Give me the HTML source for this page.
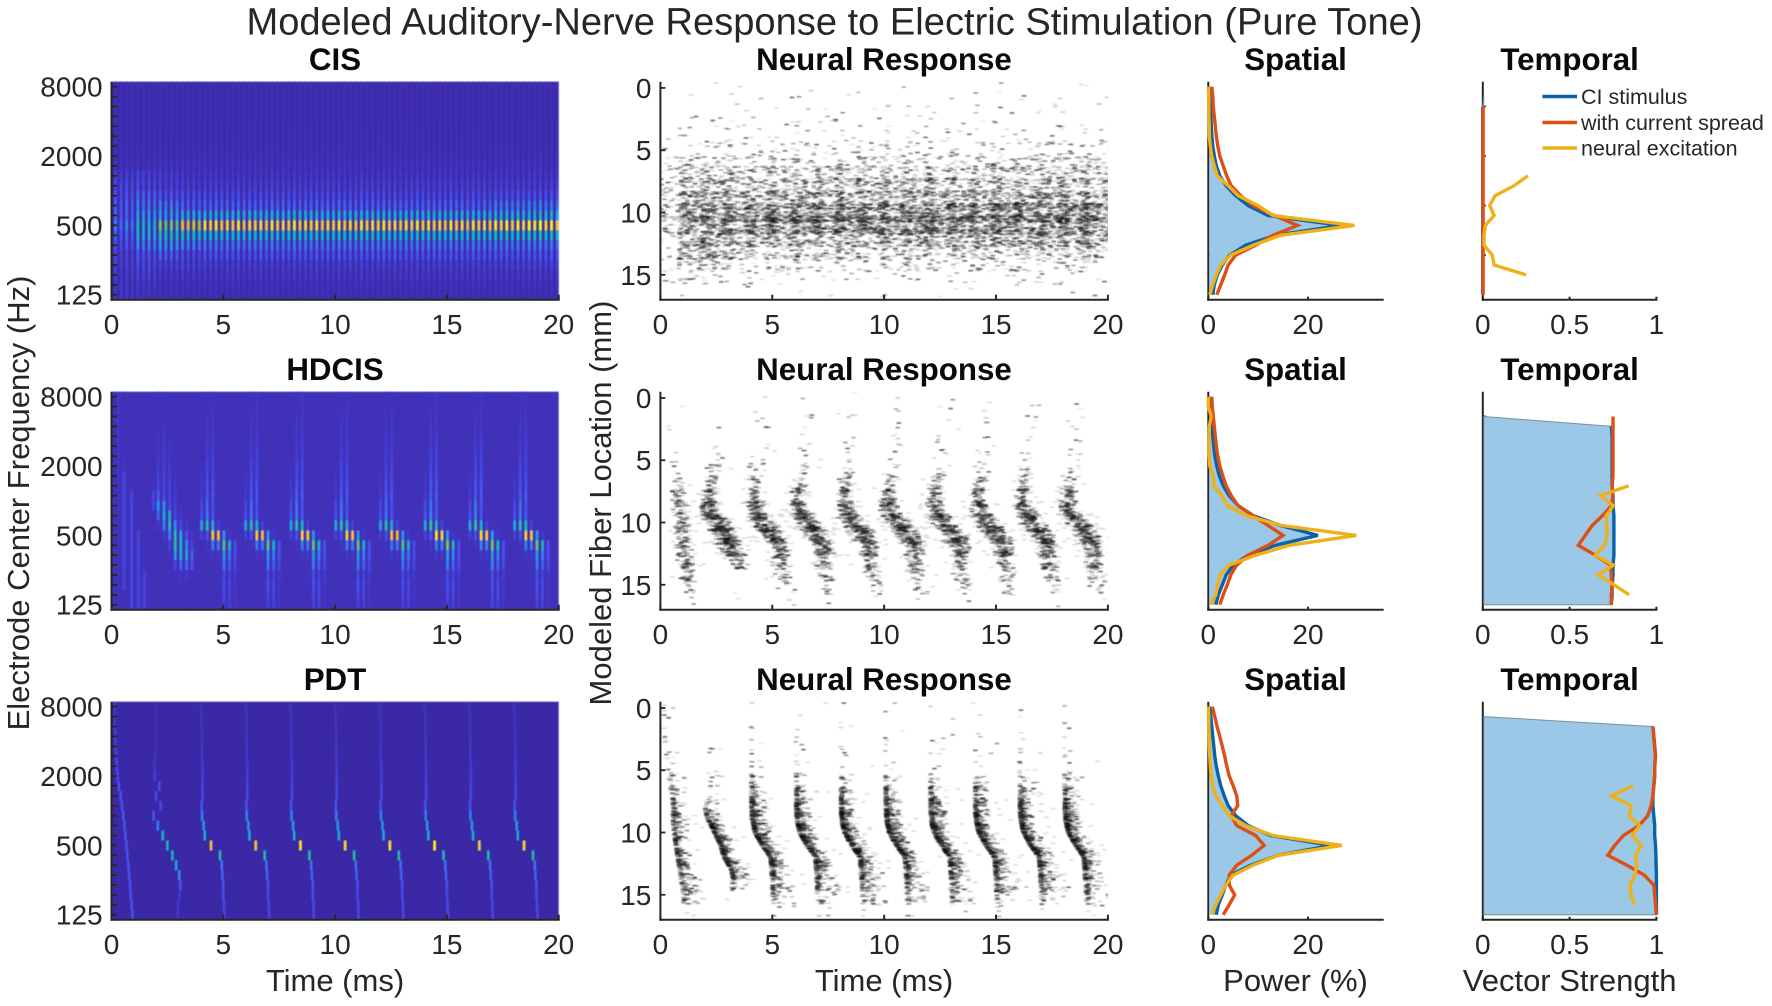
<!DOCTYPE html>
<html lang="en">
<head>
<meta charset="utf-8">
<title>Modeled Auditory-Nerve Response to Electric Stimulation (Pure Tone)</title>
<style>
html,body{margin:0;padding:0;background:#fff;}
svg{display:block;font-family:"Liberation Sans",Arial,sans-serif;}
text{fill:#262626;}
.main{font-size:38.1px;text-anchor:middle;}
.sub{font-size:31.3px;font-weight:bold;text-anchor:middle;fill:#0a0a0a;}
.lab{font-size:31px;text-anchor:middle;}
.tick{font-size:28px;}
.leg{font-size:21.5px;}
</style>
</head>
<body>
<svg id="figure" xmlns="http://www.w3.org/2000/svg" width="1772" height="1006" viewBox="0 0 1772 1006">
<defs>
<filter id="heatBlur" x="-3%" y="-3%" width="106%" height="106%" color-interpolation-filters="sRGB"><feGaussianBlur stdDeviation="0.55"/></filter>
<filter id="spikeBlur" x="-2%" y="-2%" width="104%" height="104%" color-interpolation-filters="sRGB"><feGaussianBlur stdDeviation="0.55"/></filter>
<clipPath id="rasterClip0"><rect x="660.4" y="81.7" width="447.5" height="218"/></clipPath>
<clipPath id="rasterClip1"><rect x="660.4" y="391.7" width="447.5" height="218"/></clipPath>
<clipPath id="rasterClip2"><rect x="660.4" y="701.7" width="447.5" height="218"/></clipPath>
</defs>
<rect x="0" y="0" width="1772" height="1006" fill="#fff"/>
<text class="main" x="834.5" y="34.5">Modeled Auditory-Nerve Response to Electric Stimulation (Pure Tone)</text>

<text class="sub" x="335" y="70">CIS</text>
<text class="sub" x="884" y="70">Neural Response</text>
<text class="sub" x="1295.5" y="70">Spatial</text>
<text class="sub" x="1569.6" y="70">Temporal</text>

<text class="sub" x="335" y="380">HDCIS</text>
<text class="sub" x="884" y="380">Neural Response</text>
<text class="sub" x="1295.5" y="380">Spatial</text>
<text class="sub" x="1569.6" y="380">Temporal</text>

<text class="sub" x="335" y="690">PDT</text>
<text class="sub" x="884" y="690">Neural Response</text>
<text class="sub" x="1295.5" y="690">Spatial</text>
<text class="sub" x="1569.6" y="690">Temporal</text>

<text class="lab" x="335" y="991">Time (ms)</text>
<text class="lab" x="884" y="991">Time (ms)</text>
<text class="lab" x="1295.5" y="991">Power (%)</text>
<text class="lab" x="1569.6" y="991">Vector Strength</text>
<text class="lab" transform="translate(29,503) rotate(-90)">Electrode Center Frequency (Hz)</text>
<text class="lab" transform="translate(611,503) rotate(-90)">Modeled Fiber Location (mm)</text>
</svg>
<script>
// ---------- axis tick labels ----------
const timeTicks = [0, 5, 10, 15, 20];
const freqTickLabels = ['8000', '2000', '500', '125'];
const freqTickRows = [0, 7, 14, 21];
const fiberTicks = [0, 5, 10, 15];
const powerTicks = [0, 20];
const strengthTicks = ['0', '0.5', '1'];
const electrodeTickRows = [2, 7, 12, 17];
const legendLabels = ['CI stimulus', 'with current spread', 'neural excitation'];

// ---------- spatial profiles: power (%) per electrode row, top to bottom ----------
const cisSpatialBlue = [0.2,0.3,0.4,0.5,0.6,0.7,0.9,1.2,1.6,2.3,3.6,5.5,8.0,12.0,26.6,13.5,7.5,4.3,2.8,1.8,1.2,0.9];
const cisSpatialRed = [0.7,0.9,1.0,1.2,1.4,1.6,1.9,2.3,3.0,3.7,4.6,6.5,9.0,13.2,17.9,13.0,9.5,5.5,4.0,3.3,2.5,1.7];
const cisSpatialYellow = [0,0.1,0.1,0.1,0.2,0.2,0.4,0.7,1.2,1.8,4.0,6.0,10.0,13.0,29.3,14.5,9.0,4.5,2.5,1.6,0.9,0.3];
const hdcisSpatialBlue = [0.2,0.3,0.5,0.7,0.9,1.1,1.3,1.7,2.2,3.0,4.2,6.0,9.0,14.5,22.0,13.5,8.0,5.0,3.6,2.8,2.0,1.5];
const hdcisSpatialRed = [0.7,0.8,1.0,1.2,1.4,1.6,1.9,2.3,2.9,3.6,4.6,6.0,9.0,12.0,15.0,12.0,8.0,5.7,4.5,3.8,3.0,2.3];
const hdcisSpatialYellow = [0,0,0.6,0.2,0.2,0.1,0.2,0.3,1.0,1.1,2.7,3.8,7.6,14.8,29.7,16.3,9.5,4.2,2.3,1.9,1.5,0.5];
const pdtSpatialBlue = [0.3,0.5,0.7,0.9,1.1,1.3,1.6,2.0,2.5,3.2,4.0,5.5,8.0,12.5,24.7,14.0,8.5,4.5,3.5,2.8,2.0,1.6];
const pdtSpatialRed = [0.8,1.3,1.75,2.3,2.8,3.3,3.7,4.2,5.0,5.7,5.9,4.6,5.7,9.5,11.2,8.7,5.7,4.2,4.2,5.3,4.2,3.0];
const pdtSpatialYellow = [0,0.1,0.1,0.2,0.2,0.3,0.4,0.6,0.9,1.5,2.8,4.2,7.5,13.0,26.8,14.0,9.0,5.0,3.5,2.5,1.5,0.8];

// ---------- temporal profiles: vector strength per electrode row ----------
const cisTemporalBlue = [null,null,0,0,0,0,0,0,0,0,0,0,0,0,0,0,0,0,0,0,0,0];
const cisTemporalRed = [null,null,0.002,0.002,0.002,0.002,0.002,0.002,0.002,0.002,0.002,0.002,0.002,0.002,0.002,0.002,0.002,0.002,0.002,0.002,0.002,0.002];
const cisTemporalYellow = [null,null,null,null,null,null,null,null,null,0.26,0.18,0.07,0.04,0.065,0.015,0.007,0.007,0.055,0.065,0.25,null,null];
const hdcisTemporalBlue = [null,null,null,0.74,0.745,0.745,0.745,0.745,0.745,0.745,0.75,0.75,0.755,0.755,0.755,0.755,0.755,0.75,0.75,0.745,0.745,0.74];
const hdcisTemporalRed = [null,null,0.75,0.75,0.75,0.75,0.75,0.75,0.75,0.745,0.75,0.74,0.69,0.63,0.59,0.55,0.648,0.735,0.74,0.745,0.74,0.74];
const hdcisTemporalYellow = [null,null,null,null,null,null,null,null,null,0.84,0.676,0.752,0.71,0.713,0.717,0.70,0.648,0.752,0.665,0.757,0.843,null];
const pdtTemporalBlue = [null,null,0.98,0.985,0.99,0.995,0.99,0.99,0.985,0.98,0.98,0.985,0.99,0.99,0.995,0.997,0.998,1,1,1,1,1];
const pdtTemporalRed = [null,null,0.98,0.985,0.99,0.995,0.99,0.99,0.985,0.98,0.97,0.95,0.90,0.81,0.76,0.72,0.83,0.93,0.985,0.99,0.995,1];
const pdtTemporalYellow = [null,null,null,null,null,null,null,null,0.865,0.74,0.855,0.843,0.904,0.86,0.913,0.88,0.887,0.876,0.848,0.854,0.872,null];

// ---------- CIS spectrogram: pulse envelope per time segment (rows 0-21) ----------
const cisSegmentStarts = [0, 1, 2, 3, 4, 17];
const cisProfiles = [
 [.012,.012,.012,.012,.012,.014,.016,.02,.03,.07,.10,.12,.15,.15,.20,.15,.12,.08,.08,.06,.05,.05],
 [.012,.012,.012,.012,.012,.014,.016,.02,.03,.08,.10,.15,.18,.25,.35,.30,.20,.12,.10,.08,.05,.04],
 [.012,.012,.012,.012,.012,.014,.018,.025,.04,.07,.08,.12,.20,.25,.60,.40,.25,.15,.08,.05,.03,.03],
 [.012,.012,.012,.012,.012,.014,.018,.025,.035,.05,.07,.11,.15,.30,.75,.40,.20,.10,.08,.05,.03,.02],
 [.012,.012,.012,.012,.014,.015,.02,.025,.035,.05,.07,.10,.15,.30,.88,.38,.18,.12,.07,.05,.03,.02],
 [.012,.012,.012,.012,.014,.015,.02,.025,.035,.05,.07,.11,.18,.32,.90,.40,.18,.12,.08,.05,.03,.02]
];
const cisPulseGains = [
 1,.85,1.05,.9,1.1,.95,1,.9,1.05,.92,1,.9,1.05,.95,1,.88,1.02,.96,1.05,.92,
 1,.94,1.04,.9,1,.96,1.02,.92,1.05,.94,1,.95,1.06,.92,1,.96,1.04,.92,1,.94,
 1.06,.94,1,.92,1.05,.95,1.02,.96,1.06,.94,1,.92,1.02,.96,1.06,.94,1.02,.96,1,.92,
 1.05,.94,1,.9,1.04,.96,1.02,.92,1.05,.96,1.06,.92,1.04,.96,1.1,1.02,1.12,.96,1.06,.92
];

// ---------- HDCIS spectrogram: burst matrices, rows 0-21 by pulse column ----------
const hdcisFirstTimes = [0.3, 0.55, 0.9, 1.2, 1.47];
const hdcisFirstMatrix = [
 [.04,.02,0,0,0],[.04,.02,0,0,0],[.04,.03,0,0,0],[.04,.03,0,0,0],[.04,.03,0,0,0],[.04,.03,0,0,0],
 [.04,.03,0,0,0],[.04,.04,0,0,0],[.04,.09,0,0,0],[0,.09,.03,0,0],[0,.09,.09,0,0],[0,.09,.1,0,0],
 [0,.09,.1,0,0],[0,.09,.1,0,0],[0,.09,.1,.09,0],[0,.09,.1,.09,0],[0,.09,.1,.09,0],[0,.09,.1,.09,0],
 [0,.08,.1,.09,.08],[0,.08,.1,.09,.08],[0,.02,.1,.09,.08],[0,0,.1,.09,.08]
];
const hdcisSecondTimes = [1.87, 2.09, 2.35, 2.6, 2.85, 3.1, 3.36, 3.6];
const hdcisSecondMatrix = [
 [0,.02,.03,0,0,0,0,0],[0,.02,.03,.02,0,0,0,0],[0,.03,.03,.02,0,0,0,0],[0,.03,.04,.03,0,0,0,0],
 [0,.04,.05,.03,0,0,0,0],[0,.05,.06,.04,0,0,0,0],[0,.05,.06,.05,.03,0,0,0],[0,.06,.07,.06,.03,0,0,0],
 [0,.08,.08,.07,.04,0,0,0],[.03,.09,.08,.08,.05,0,0,0],[.09,.14,.1,.09,.06,.02,0,0],[.1,.24,.22,.1,.07,.03,0,0],
 [.02,.16,.38,.32,.09,.05,.02,0],[0,.05,.2,.46,.22,.1,.05,.02],[0,.02,.06,.2,.47,.32,.12,.05],[0,0,.03,.08,.45,.42,.22,.08],
 [0,0,0,.04,.25,.36,.3,.15],[0,0,0,.02,.08,.16,.16,.12],[0,0,0,0,.03,.05,.05,.03],[0,0,0,0,0,.03,.03,.02],
 [0,0,0,0,0,.02,.02,.02],[0,0,0,0,0,.02,.02,.02]
];
const hdcisTypicalOffsets = [0, 0.25, 0.5, 0.75, 1.0, 1.25, 1.5];
const hdcisTypicalOnsets = [4.03, 6, 8.03, 10.03, 12.03, 14.03, 16.03, 18.03];
const hdcisTypicalGains = [0.93, 0.95, 0.98, 0.97, 0.92, 1.04, 1.02, 1.0];
const hdcisTypicalMatrix = [
 [0,.03,.04,0,0,0,0],[0,.03,.04,0,0,0,0],[0,.04,.05,0,0,0,0],[0,.05,.05,0,0,0,0],
 [0,.05,.06,0,0,0,0],[0,.06,.07,0,0,0,0],[.02,.07,.08,0,0,0,0],[.03,.09,.09,0,0,0,0],
 [.04,.10,.10,0,0,0,0],[.05,.12,.12,0,0,0,0],[.06,.14,.14,0,0,0,0],[.10,.18,.12,0,0,0,0],
 [.12,.20,.13,.03,0,0,0],[.30,.50,.40,.08,.03,0,0],[.08,.12,.90,.85,.25,.05,.02],[.02,.04,.20,.20,.60,.40,.12],
 [0,0,.05,.05,.25,.20,.12],[0,0,0,.03,.20,.15,.10],[0,0,0,.03,.10,.08,.06],[0,0,0,.03,.12,.10,.05],
 [0,0,0,0,.10,.10,.05],[0,0,0,0,.08,.08,.04]
];

// ---------- PDT spectrogram: burst time offset (ms) and level per row ----------
const pdtFirstTimes = [.14,.15,.15,.17,.19,.21,.24,.27,.33,.41,.47,.53,.58,.62,.67,.71,.75,.79,.83,.86,.90,.94];
const pdtFirstLevels = [.05,.05,.06,.07,.08,.09,.1,.11,.12,.12,.12,.13,.13,.13,.13,.13,.13,.12,.12,.12,.12,.12];
const pdtSecondTimes = [1.99,1.99,1.99,1.99,1.98,1.95,1.93,1.93,2.14,1.99,2.19,1.88,2.07,2.29,2.5,2.72,2.89,3.03,3.08,3.05,2.98,2.96];
const pdtSecondLevels = [.015,.015,.02,.02,.02,.03,.04,.07,.1,.1,.1,.13,.2,.35,.42,.38,.3,.22,.12,.05,.05,.05];
const pdtTypicalTimes = [0,.03,.03,.05,.05,.05,.07,.07,.07,.07,.03,.05,.12,.17,.45,.85,.93,.96,1.0,1.0,1.03,1.05];
const pdtTypicalLevels = [.03,.03,.035,.04,.05,.05,.06,.07,.09,.1,.12,.2,.25,.33,.85,.45,.18,.15,.12,.1,.1,.1];
const pdtTypicalOnsets = [4, 6, 8, 10, 12, 14, 16, 18];
const pdtTypicalGains = [0.95, 0.97, 1.08, 1.05, 1.08, 1.14, 1.0, 1.04];

// ---------- CIS raster: spike count per fibre position (rows, mm) and 1 ms bin (columns) ----------
const cisRasterCounts = [
 [0,0,1,1,0,0,1,0,0,1,0,1,0,0,0,1,1,0,1,1],
 [0,1,1,1,1,1,1,1,1,1,1,1,1,1,1,1,1,1,1,1],
 [0,1,2,1,2,1,1,2,1,1,1,1,1,1,2,1,1,2,1,1],
 [1,2,2,2,2,2,2,2,2,2,2,2,2,2,2,2,2,2,2,2],
 [2,3,3,3,3,3,3,3,3,3,3,3,3,3,3,3,3,3,3,3],
 [4,5,5,5,5,5,5,5,5,5,5,5,5,5,5,5,6,6,6,6],
 [5,8,7,7,7,7,7,7,7,7,7,7,7,7,7,7,7,8,8,8],
 [8,12,11,10,9,10,10,10,11,11,10,10,10,10,10,11,11,11,11,11],
 [9,16,14,13,12,13,13,14,14,14,14,13,13,14,14,14,15,14,15,15],
 [8,18,17,17,17,18,18,19,19,20,19,18,18,18,18,20,19,20,20,20],
 [12,30,32,32,34,36,36,36,36,36,34,34,36,36,36,36,36,36,38,38],
 [12,26,30,34,36,38,38,38,38,36,36,38,38,38,38,38,38,38,38,40],
 [7,24,26,24,18,17,18,16,16,18,20,20,19,20,22,22,20,20,22,24],
 [6,20,18,10,7,10,10,10,12,10,10,10,11,10,10,10,11,11,10,11],
 [5,12,12,4,6,8,7,4,7,6,7,7,6,8,7,7,7,6,7,6],
 [4,7,5,2,5,3,3,4,3,3,4,3,3,4,2,3,4,3,3,3],
 [1,2,1,1,1,1,1,1,1,2,1,1,1,1,1,1,1,1,1,1]
];

// ---------- HDCIS raster: per-mm burst centre offset (ms), half-width (ms), spike count ----------
const hdcisFirstOnset = [0];
const hdcisFirstOffset = [.7,.7,.7,.7,.7,.7,.72,.78,.82,.88,.95,1.0,1.05,1.1,1.15,1.27,1.3];
const hdcisFirstSpread = [.3,.3,.3,.3,.3,.3,.3,.3,.3,.35,.35,.35,.35,.35,.35,.3,.3];
const hdcisFirstCount = [0,1,1,1,1,2,4,8,10,12,14,14,14,15,14,10,2];
const hdcisSecondOnset = [2];
const hdcisSecondOffset = [.4,.4,.4,.4,.4,.4,.35,.3,.1,.22,.55,.9,1.1,1.43,1.5,1.5,1.5];
const hdcisSecondSpread = [.45,.45,.45,.45,.45,.4,.35,.3,.3,.4,.55,.55,.5,.45,.35,.3,.3];
const hdcisSecondCount = [0,0,0,1,3,5,8,10,24,40,54,56,46,20,4,1,1];
const hdcisTypicalRasterOnsets = [4.05, 6, 8.05, 10.05, 12.1, 14.05, 16.05, 18.05];
const hdcisRasterOffset = [.5,.5,.45,.45,.4,.35,.3,.2,.15,.2,.55,1.0,1.3,1.3,1.35,1.5,1.65];
const hdcisRasterSpread = [.45,.45,.45,.45,.45,.4,.35,.32,.3,.4,.55,.55,.42,.38,.38,.38,.35];
const hdcisRasterCount = [1,2,2,2,3,4,6,10,18,32,45,48,30,15,10,7,2];

// ---------- PDT raster: per-mm burst centre offset (ms), width (ms), spike count ----------
const pdtFirstOnset = [0];
const pdtFirstOffset = [.2,.2,.2,.25,.3,.35,.45,.55,.6,.6,.65,.72,.8,.9,.98,1.05,1.08];
const pdtFirstSpread = [.35,.35,.35,.35,.35,.35,.35,.35,.35,.35,.35,.35,.35,.35,.4,.45,.5];
const pdtFirstCount = [3,3,4,4,4,5,7,12,16,18,20,20,22,22,20,14,4];
const pdtSecondOnset = [2];
const pdtSecondOffset = [.2,.2,.2,.2,.25,.25,.3,.25,0,.15,.44,.71,.87,1.2,1.27,1.1,1.1];
const pdtSecondSpread = [.4,.4,.4,.4,.4,.5,.5,.5,.3,.3,.3,.3,.3,.3,.4,.5,.5];
const pdtSecondCount = [0,0,0,1,3,3,4,6,8,28,38,40,38,36,10,2,0];
const pdtTypicalRasterOnsets = [4, 6, 8, 10, 12, 14, 16, 18];
const pdtRasterOffset = [.1,.1,.1,.1,.1,.1,.1,.1,.1,.13,.25,.55,.95,1.0,1.05,1.08,1.12];
const pdtRasterSpread = [.5,.5,.5,.5,.5,.45,.4,.33,.33,.33,.33,.33,.33,.36,.5,.6,.6];
const pdtRasterCount = [1,1,2,2,3,4,8,18,30,36,45,40,35,30,18,14,4];

// ---------- layout and scales ----------
const svg = document.getElementById('figure');
const NS = 'http://www.w3.org/2000/svg';
const rowTops = [81.7, 391.7, 701.7];
const panelHeight = 218;
const rowPitch = panelHeight / 22;
const specLeft = 111.5, specRight = 558.7;
const rasterLeft = 660.4, rasterRight = 1107.9;
const spatialLeft = 1208.3, spatialRight = 1382.7;
const temporalLeft = 1482.8, temporalRight = 1656.4;
const ink = '#262626';
const blueLine = '#0a62a8', redLine = '#dd4f14', yellowLine = '#f0b018', areaFill = '#9bc8e7';
const panelNames = ['cis', 'hdcis', 'pdt'];
const heatBackgrounds = ['#3c2ba8', '#4131b9', '#3b28a6'];

const xSpec = t => specLeft + (t / 20) * (specRight - specLeft);
const xRaster = t => rasterLeft + (t / 20) * (rasterRight - rasterLeft);
const xSpatial = p => spatialLeft + (p / 35) * (spatialRight - spatialLeft);
const xTemporal = v => temporalLeft + v * (temporalRight - temporalLeft);
const yRow = (panel, r) => rowTops[panel] + (r + 0.5) * rowPitch;
const yFiber = (panel, mm) => rowTops[panel] + ((mm + 0.5) / 17.5) * panelHeight;

function make(parent, tag, attrs, text) {
  const node = document.createElementNS(NS, tag);
  for (const key in attrs) node.setAttribute(key, attrs[key]);
  if (text !== undefined) node.textContent = text;
  parent.appendChild(node);
  return node;
}

const parulaStops = [[62,38,168],[72,80,244],[45,140,242],[31,168,220],[16,184,196],[39,196,156],[108,200,102],[180,199,42],[239,186,58],[252,213,47],[249,251,21]];
function parula(v) {
  const c = Math.max(0, Math.min(0.9999, v)) * 10;
  const i = Math.floor(c), f = c - i;
  const a = parulaStops[i], b = parulaStops[i + 1];
  return 'rgb(' + [0, 1, 2].map(k => Math.round(a[k] + (b[k] - a[k]) * f)).join(',') + ')';
}
// low levels sit closer to the background colour than the parula ramp alone
const displayLevel = v => v < 0.3 ? v * (0.6 + v * 1.33) : v;

// ---------- axes ----------
function drawAxes(panel, left, right, kind) {
  const top = rowTops[panel], bottom = top + panelHeight;
  const g = make(svg, 'g', {});
  
  
  const yAxis = make(g, 'line', {x1: left, x2: left, y1: top, y2: bottom + 1, stroke: ink, 'stroke-width': 2});
  
  
  const xAxis = make(g, 'line', {x1: left - 1, x2: right + 1, y1: bottom, y2: bottom, stroke: ink, 'stroke-width': 2});
  
  
  return g;
}
function xTick(g, panel, x, label, len) {
  const bottom = rowTops[panel] + panelHeight;
  const mark = make(g, 'line', {x1: x, x2: x, y1: bottom, y2: bottom - len, stroke: ink, 'stroke-width': 2});
  
  
  const txt = make(g, 'text', {x: x, y: bottom + 34.5, class: 'tick', 'text-anchor': 'middle'}, label);
  
  
}
function yTick(g, x, y, len, label, labelRight) {
  const mark = make(g, 'line', {x1: x, x2: x + len, y1: y, y2: y, stroke: ink, 'stroke-width': 1.8});
  
  
  if (label !== null) {
    const txt = make(g, 'text', {x: labelRight, y: y + 10, class: 'tick', 'text-anchor': 'end'}, label);
    
    
  }
}

// ---------- heatmaps ----------
function heatLayer(panel) {
  const g = make(svg, 'g', {filter: 'url(#heatBlur)'});
  
  
  const bg = make(g, 'rect', {x: specLeft, y: rowTops[panel], width: specRight - specLeft, height: panelHeight, fill: heatBackgrounds[panel]});
  
  
  return g;
}
function heatCell(g, panel, t, r, value, width) {
  if (value <= 0.004) return;
  const x = xSpec(t);
  if (x > specRight - 1) return;
  const cell = make(g, 'rect', {x: x - width / 2, y: rowTops[panel] + r * rowPitch, width: width, height: rowPitch + 0.2, fill: parula(displayLevel(value) + 0.01)});
  
  
}
function drawMatrix(g, panel, times, matrix, gain, stripe) {
  matrix.forEach((row, r) => row.forEach((value, c) => {
    heatCell(g, panel, times[c], r, value * gain, stripe);
  }));
}

// CIS
(function () {
  const g = heatLayer(0);
  cisPulseGains.forEach((gain, k) => {
    const t = 0.18 + k * 0.25;
    let seg = 0;
    cisSegmentStarts.forEach((s, i) => { if (t >= s) seg = i; });
    cisProfiles[seg].forEach((value, r) => heatCell(g, 0, t, r, value * gain, 3.0));
  });
})();
// HDCIS
(function () {
  const g = heatLayer(1);
  drawMatrix(g, 1, hdcisFirstTimes, hdcisFirstMatrix, 1, 2.8);
  drawMatrix(g, 1, hdcisSecondTimes, hdcisSecondMatrix, 1, 2.8);
  hdcisTypicalOnsets.forEach((onset, b) => {
    const times = hdcisTypicalOffsets.map(o => onset + o);
    drawMatrix(g, 1, times, hdcisTypicalMatrix, hdcisTypicalGains[b], 2.8);
  });
})();
// PDT
(function () {
  const g = heatLayer(2);
  pdtFirstTimes.forEach((t, r) => heatCell(g, 2, t, r, pdtFirstLevels[r], 2.4));
  pdtSecondTimes.forEach((t, r) => heatCell(g, 2, t, r, pdtSecondLevels[r], 2.6));
  pdtTypicalOnsets.forEach((onset, b) => {
    pdtTypicalTimes.forEach((o, r) => {
      const level = r === 14 ? pdtTypicalLevels[r] * pdtTypicalGains[b] : pdtTypicalLevels[r];
      heatCell(g, 2, onset + o, r, level, r === 14 ? 2.8 : 2.5);
    });
  });
})();

// ---------- spike rasters ----------
const layerOpacities = [0.1, 0.14, 0.18, 0.22, 0.28, 0.35, 0.45, 0.6];
const layerCount = layerOpacities.length;
let spikeIndex = 0;
const spikesFor = n => n <= 4 ? n : Math.round(n * (1 + 1.6 * Math.min(1, (n - 4) / 6)));
// deterministic dash placement inside a counted bin (texture only, counts come from the arrays)
function scatter(k, salt) {
  let h = Math.imul(k ^ salt, 2654435761);
  h ^= h >>> 15;
  h = Math.imul(h, 2246822519);
  h ^= h >>> 13;
  h = Math.imul(h, 3266489917);
  h ^= h >>> 16;
  return (h >>> 0) / 4294967296;
}
function jitter() {
  spikeIndex += 1;
  return [scatter(spikeIndex, 101), scatter(spikeIndex, 20011), scatter(spikeIndex, 300007)];
}
function addDash(layers, panel, t, mm) {
  const x = xRaster(t), y = yFiber(panel, mm);
  layers[spikeIndex % layerCount].push('M' + (x - 2.3).toFixed(1) + ' ' + (y - 0.75).toFixed(1) + 'h4.6v1.5h-4.6z');
}
function lerpAt(arr, mm) {
  const a = Math.max(0, Math.min(arr.length - 1, mm));
  const i = Math.min(arr.length - 2, Math.floor(a));
  return arr[i] + (arr[i + 1] - arr[i]) * (a - i);
}
function addBursts(layers, panel, onsets, offset, spread, count, skewed) {
  onsets.forEach(onset => {
    count.forEach((n, mm) => {
      const total = spikesFor(n);
      for (let i = 0; i < total; i++) {
        const [u, v, w] = jitter();
        const pos = Math.max(-0.4, mm - 0.75 + u * 1.5);
        const width = spread[mm] * (spikeIndex % 8 === 1 ? 2.2 : 1);
        const shape = skewed ? (v * v * w * 2.4 - 0.1) : (v + w - 1) * 1.15;
        addDash(layers, panel, onset + lerpAt(offset, pos) + shape * width, pos);
      }
    });
  });
}
function flushLayers(layers, panel) {
  const g = make(svg, 'g', {'clip-path': 'url(#rasterClip' + panel + ')'});
  
  
  const inner = make(g, 'g', {filter: 'url(#spikeBlur)'});
  
  
  layers.forEach((parts, i) => {
    const path = make(inner, 'path', {d: parts.join(''), fill: '#000', 'fill-opacity': layerOpacities[i]});
    
    
  });
}
const newLayers = () => Array.from({length: layerCount}, () => []);
(function () {
  const layers = newLayers();
  cisRasterCounts.forEach((row, mm) => row.forEach((n, col) => {
    const total = spikesFor(n);
    for (let i = 0; i < total; i++) {
      const [u, v] = jitter();
      addDash(layers, 0, col - 0.2 + v * 1.4, Math.max(-0.4, mm - 0.75 + u * 1.5));
    }
  }));
  flushLayers(layers, 0);
})();
(function () {
  const layers = newLayers();
  addBursts(layers, 1, hdcisFirstOnset, hdcisFirstOffset, hdcisFirstSpread, hdcisFirstCount, false);
  addBursts(layers, 1, hdcisSecondOnset, hdcisSecondOffset, hdcisSecondSpread, hdcisSecondCount, false);
  addBursts(layers, 1, hdcisTypicalRasterOnsets, hdcisRasterOffset, hdcisRasterSpread, hdcisRasterCount, false);
  flushLayers(layers, 1);
})();
(function () {
  const layers = newLayers();
  addBursts(layers, 2, pdtFirstOnset, pdtFirstOffset, pdtFirstSpread, pdtFirstCount, true);
  addBursts(layers, 2, pdtSecondOnset, pdtSecondOffset, pdtSecondSpread, pdtSecondCount, true);
  addBursts(layers, 2, pdtTypicalRasterOnsets, pdtRasterOffset, pdtRasterSpread, pdtRasterCount, true);
  flushLayers(layers, 2);
})();

// ---------- axes sit over heatmaps and rasters, under the line series ----------
[0, 1, 2].forEach(panel => {
  const spec = drawAxes(panel, specLeft, specRight, 'spectrogram');
  timeTicks.forEach(t => xTick(spec, panel, xSpec(t), String(t), 5));
  for (let r = 0; r < 22; r++) {
    const idx = freqTickRows.indexOf(r);
    yTick(spec, specLeft, yRow(panel, r), 5.5, idx >= 0 ? freqTickLabels[idx] : null, 102.6);
  }
  const raster = drawAxes(panel, rasterLeft, rasterRight, 'raster');
  timeTicks.forEach(t => xTick(raster, panel, xRaster(t), String(t), 5));
  fiberTicks.forEach(mm => yTick(raster, rasterLeft, yFiber(panel, mm), 5, String(mm), 651.4));
  const spatial = drawAxes(panel, spatialLeft, spatialRight, 'spatial');
  powerTicks.forEach(p => xTick(spatial, panel, xSpatial(p), String(p), 3));
  electrodeTickRows.forEach(r => yTick(spatial, spatialLeft, yRow(panel, r), 3, null, 0));
  const temporal = drawAxes(panel, temporalLeft, temporalRight, 'temporal');
  strengthTicks.forEach(s => xTick(temporal, panel, xTemporal(Number(s)), s, 3));
  electrodeTickRows.forEach(r => yTick(temporal, temporalLeft, yRow(panel, r), 3, null, 0));
});

// ---------- line panels ----------
function linePoints(panel, values, xFn) {
  const pts = [];
  values.forEach((v, r) => { if (v !== null) pts.push(xFn(v).toFixed(1) + ',' + yRow(panel, r).toFixed(1)); });
  return pts;
}
function drawProfile(panel, kind, xFn, left, blue, red, yellow) {
  const g = make(svg, 'g', {});
  
  
  const first = blue.findIndex(v => v !== null);
  const startRow = kind === 'temporal' ? first - 1 : first;
  const edge = left + 1;
  const area = [edge.toFixed(1) + ',' + yRow(panel, startRow).toFixed(1)]
    .concat(linePoints(panel, blue, xFn))
    .concat([edge.toFixed(1) + ',' + yRow(panel, 21).toFixed(1)]);
  const fill = make(g, 'polygon', {points: area.join(' '), fill: areaFill, stroke: kind === 'temporal' ? '#7b8f9c' : 'none', 'stroke-width': 1});
  
  
  const blueSeries = make(g, 'polyline', {points: linePoints(panel, blue, xFn).join(' '), fill: 'none', stroke: blueLine, 'stroke-width': 3.4, 'stroke-linejoin': 'miter'});
  
  
  const redSeries = make(g, 'polyline', {points: linePoints(panel, red, xFn).join(' '), fill: 'none', stroke: redLine, 'stroke-width': 3.4, 'stroke-linejoin': 'miter'});
  
  
  const yellowSeries = make(g, 'polyline', {points: linePoints(panel, yellow, xFn).join(' '), fill: 'none', stroke: yellowLine, 'stroke-width': 3.4, 'stroke-linejoin': 'miter'});
  
  
}
const spatialData = [
  [cisSpatialBlue, cisSpatialRed, cisSpatialYellow],
  [hdcisSpatialBlue, hdcisSpatialRed, hdcisSpatialYellow],
  [pdtSpatialBlue, pdtSpatialRed, pdtSpatialYellow]
];
const temporalData = [
  [cisTemporalBlue, cisTemporalRed, cisTemporalYellow],
  [hdcisTemporalBlue, hdcisTemporalRed, hdcisTemporalYellow],
  [pdtTemporalBlue, pdtTemporalRed, pdtTemporalYellow]
];
[0, 1, 2].forEach(panel => {
  drawProfile(panel, 'spatial', xSpatial, spatialLeft, spatialData[panel][0], spatialData[panel][1], spatialData[panel][2]);
  drawProfile(panel, 'temporal', xTemporal, temporalLeft, temporalData[panel][0], temporalData[panel][1], temporalData[panel][2]);
});

// ---------- legend ----------
(function () {
  const legendColors = [blueLine, redLine, yellowLine];
  const legendY = [96.5, 122.5, 148];
  const g = make(svg, 'g', {});
  
  
  legendLabels.forEach((label, i) => {
    const swatch = make(g, 'line', {x1: 1542.4, x2: 1577.1, y1: legendY[i], y2: legendY[i], stroke: legendColors[i], 'stroke-width': 3.4});
    
    
    const txt = make(g, 'text', {x: 1581, y: legendY[i] + 7.5, class: 'leg'}, label);
    
    
  });
})();
</script>
</body>
</html>
